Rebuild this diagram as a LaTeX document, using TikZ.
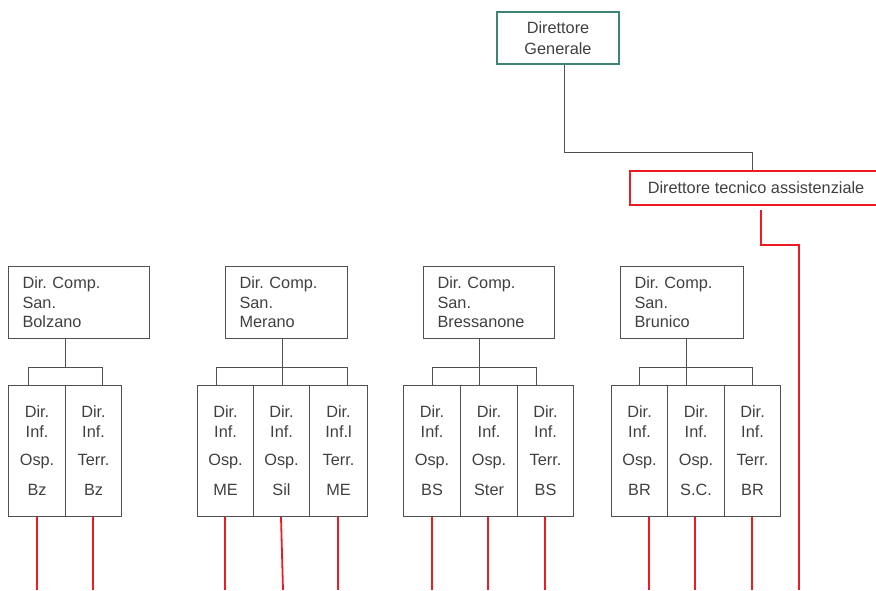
\documentclass[tikz,border=0pt]{standalone}
\usepackage{fontspec}
\setmainfont{Liberation Sans}
\frenchspacing
\definecolor{inkgray}{RGB}{64,64,64}
\definecolor{linegray}{RGB}{80,80,80}
\definecolor{tealline}{RGB}{62,132,116}
\definecolor{redline}{RGB}{236,28,36}
\tikzset{
  txt/.style={font=\fontsize{16.3}{20}\selectfont\frenchspacing, text=inkgray},
  topbox/.style={draw=tealline, line width=1.8pt, txt, align=center, inner sep=0pt,
    minimum width=122pt, minimum height=52pt},
  techbox/.style={draw=redline, line width=1.6pt, txt, inner xsep=18pt, inner ysep=0pt,
    minimum height=34pt, anchor=north west},
  compbox/.style={draw=linegray, line width=1.1pt, txt, align=left, anchor=north west,
    font=\fontsize{16.3}{19.5}\selectfont\frenchspacing, inner xsep=14pt, inner ysep=0pt, minimum height=72pt},
  infbox/.style={draw=linegray, line width=1.1pt, txt, align=center, anchor=north west,
    inner sep=0pt, minimum height=131pt},
  link/.style={draw=linegray, line width=1pt},
  redlink/.style={draw=redline, line width=1.8pt},
}
\newcommand{\infsel}[2]{Dir.\\Inf.#1\\[8pt]#2}
\begin{document}
\begin{tikzpicture}[x=1pt, y=-1pt]
\useasboundingbox (0,0) rectangle (876,590);

% top management
\node[topbox] (dg) at (558,38) {Direttore\\[1pt]Generale};
\node[techbox] (dta) at (629,170) {Direttore tecnico assistenziale};

\coordinate (dgA) at (564,152);
\coordinate (dgB) at (752,152);
\draw[link] (dg.south -| dgA) -- (dgA) -- (dgB) -- (dgB |- dta.north);

\coordinate (dtaA) at (761,245);
\coordinate (dtaB) at (799,245);
\coordinate (dtaEnd) at (799,590);
\draw[redlink] ([yshift=-4pt]dta.south -| dtaA) -- (dtaA) -- (dtaB) -- (dtaEnd);

% health districts
\node[compbox, text width=113pt] (bz) at (8,266)   {Dir. Comp.\\San.\\Bolzano};
\node[compbox, text width=94pt]  (me) at (225,266) {Dir. Comp.\\San.\\Merano};
\node[compbox, text width=103pt] (bs) at (423,266) {Dir. Comp.\\San.\\Bressanone};
\node[compbox, text width=95pt]  (br) at (620,266) {Dir. Comp.\\San.\\Brunico};

% nursing directorates
\node[infbox, minimum width=57pt] (bz1) at (8,385)   {\infsel{}{Osp.\\[10pt]Bz}};
\node[infbox, minimum width=56pt] (bz2) at (65,385)  {\infsel{}{Terr.\\[10pt]Bz}};

\node[infbox, minimum width=56pt] (me1) at (197,385) {\infsel{}{Osp.\\[10pt]ME}};
\node[infbox, minimum width=56pt] (me2) at (253,385) {\infsel{}{Osp.\\[10pt]Sil}};
\node[infbox, minimum width=58pt] (me3) at (309,385) {\infsel{l}{Terr.\\[10pt]ME}};

\node[infbox, minimum width=57pt] (bs1) at (403,385) {\infsel{}{Osp.\\[10pt]BS}};
\node[infbox, minimum width=57pt] (bs2) at (460,385) {\infsel{}{Osp.\\[10pt]Ster}};
\node[infbox, minimum width=56pt] (bs3) at (517,385) {\infsel{}{Terr.\\[10pt]BS}};

\node[infbox, minimum width=56pt] (br1) at (611,385) {\infsel{}{Osp.\\[10pt]BR}};
\node[infbox, minimum width=57pt] (br2) at (667,385) {\infsel{}{Osp.\\[10pt]S.C.}};
\node[infbox, minimum width=56pt] (br3) at (724,385) {\infsel{}{Terr.\\[10pt]BR}};

% district connectors
\coordinate (bzM) at (65,367);  \coordinate (bzL) at (28,367);  \coordinate (bzR) at (102,367);
\draw[link] (bz.south -| bzM) -- (bzM);
\draw[link] (bzL |- bz1.north) -- (bzL) -- (bzR) -- (bzR |- bz2.north);

\coordinate (meM) at (282,367); \coordinate (meL) at (216,367); \coordinate (meR) at (347,367);
\draw[link] (me.south -| meM) -- (meM |- me2.north);
\draw[link] (meL |- me1.north) -- (meL) -- (meR) -- (meR |- me3.north);

\coordinate (bsM) at (479,367); \coordinate (bsL) at (432,367); \coordinate (bsR) at (536,367);
\draw[link] (bs.south -| bsM) -- (bsM |- bs2.north);
\draw[link] (bsL |- bs1.north) -- (bsL) -- (bsR) -- (bsR |- bs3.north);

\coordinate (brM) at (686,367); \coordinate (brL) at (639,367); \coordinate (brR) at (752,367);
\draw[link] (br.south -| brM) -- (brM |- br2.north);
\draw[link] (brL |- br1.north) -- (brL) -- (brR) -- (brR |- br3.north);

% red lines leaving the nursing directorates
\foreach \n/\x/\e in {bz1/37/37, bz2/93/93, me1/225/225, me2/281/283, me3/338/338,
                      bs1/432/432, bs2/488/488, bs3/545/545,
                      br1/649/649, br2/695/695, br3/752/752}{
  \coordinate (\n end) at (\e,590);
  \draw[redlink] (\n.south -| \x,0) -- (\n end);
}
\end{tikzpicture}
\end{document}
